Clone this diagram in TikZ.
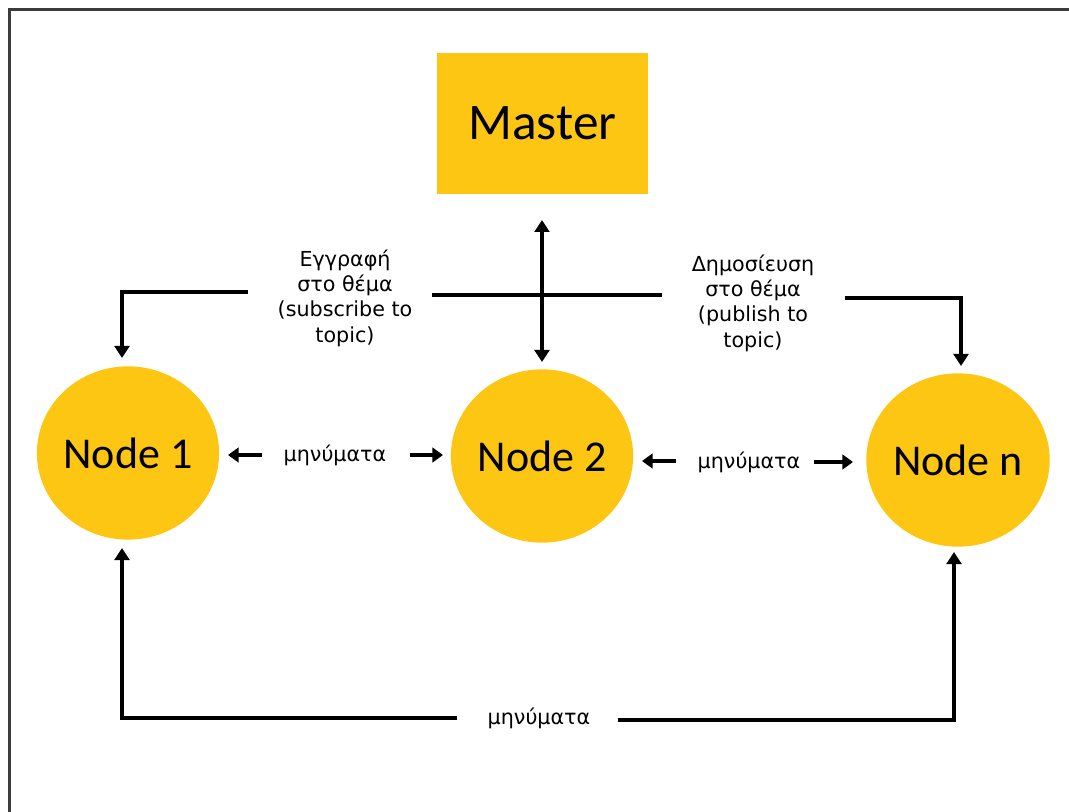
\documentclass[tikz,border=0pt]{standalone}
\usepackage{fontspec}
\setmainfont{Carlito}
\newfontfamily\gfont{DejaVu Sans}
\usetikzlibrary{arrows.meta,shapes.geometric}
\definecolor{gold}{RGB}{252,198,18}
\definecolor{framegray}{RGB}{60,60,60}
\tikzset{
  ynode/.style={ellipse,fill=gold,minimum width=134pt,minimum height=130pt,inner sep=0pt,font=\fontsize{33}{36}\selectfont},
  lbl/.style={font=\gfont\fontsize{15.5}{19}\selectfont,align=center,inner sep=0pt},
  conn/.style={line width=2.3pt,-{Triangle[width=11pt,length=9pt]}},
  plain/.style={line width=2.3pt},
  small/.style={line width=2.6pt,-{Triangle[width=11pt,length=8pt]}}
}
\begin{document}
\begin{tikzpicture}[x=0.75pt,y=-0.75pt]
\useasboundingbox (0,0) rectangle (1069,812);
\draw[framegray,line width=1.6pt] (9.5,812) -- (9.5,9.5) -- (1069,9.5);

\node[fill=gold,minimum width=158pt,minimum height=106pt,inner sep=0pt,font=\fontsize{38.5}{40}\selectfont] (master) at (542.5,123.5) {Master};
\node[ynode] (n1) at (128,453) {Node 1};
\node[ynode] (n2) at (542,456) {Node 2};
\node[ynode] (nn) at (958,460) {Node n};

% labels
\node[lbl] (sub) at (345,298) {Εγγραφή\\στο θέμα\\(subscribe to\\topic)};
\node[lbl] (pub) at (753,303) {Δημοσίευση\\στο θέμα\\(publish to\\topic)};
\node[lbl] (m1) at (335,455) {μηνύματα};
\node[lbl] (m2) at (749,462) {μηνύματα};
\node[lbl] (m3) at (539,718) {μηνύματα};

% master <-> node 2
\coordinate (mt) at (542,220);
\coordinate (mb) at (542,362);
\draw[line width=2.3pt,{Triangle[width=11pt,length=9pt]}-{Triangle[width=11pt,length=9pt]}] (mt) -- (mb);

% subscribe / publish lines
\coordinate (s1) at (248,292);
\coordinate (s2) at (122,292);
\coordinate (s3) at (122,358);
\draw[conn] (s1) -- (s2) -- (s3);
\coordinate (c1) at (432,295);
\coordinate (c2) at (662,295);
\draw[plain] (c1) -- (c2);
\coordinate (p1) at (845,298);
\coordinate (p2) at (961,298);
\coordinate (p3) at (961,366);
\draw[conn] (p1) -- (p2) -- (p3);

% messages small arrows
\coordinate (a1s) at (262,455); \coordinate (a1e) at (228,455);
\coordinate (a2s) at (410,455); \coordinate (a2e) at (443,455);
\coordinate (a3s) at (676,461); \coordinate (a3e) at (642,461);
\coordinate (a4s) at (814,462); \coordinate (a4e) at (853,462);
\draw[small] (a1s) -- (a1e);
\draw[small] (a2s) -- (a2e);
\draw[small] (a3s) -- (a3e);
\draw[small] (a4s) -- (a4e);

% bottom
\coordinate (b1) at (457,718);
\coordinate (b2) at (122,718);
\coordinate (b3) at (122,548);
\draw[conn] (b1) -- (b2) -- (b3);
\coordinate (b4) at (618,720);
\coordinate (b5) at (954,720);
\coordinate (b6) at (954,552);
\draw[conn] (b4) -- (b5) -- (b6);
\end{tikzpicture}
\end{document}
